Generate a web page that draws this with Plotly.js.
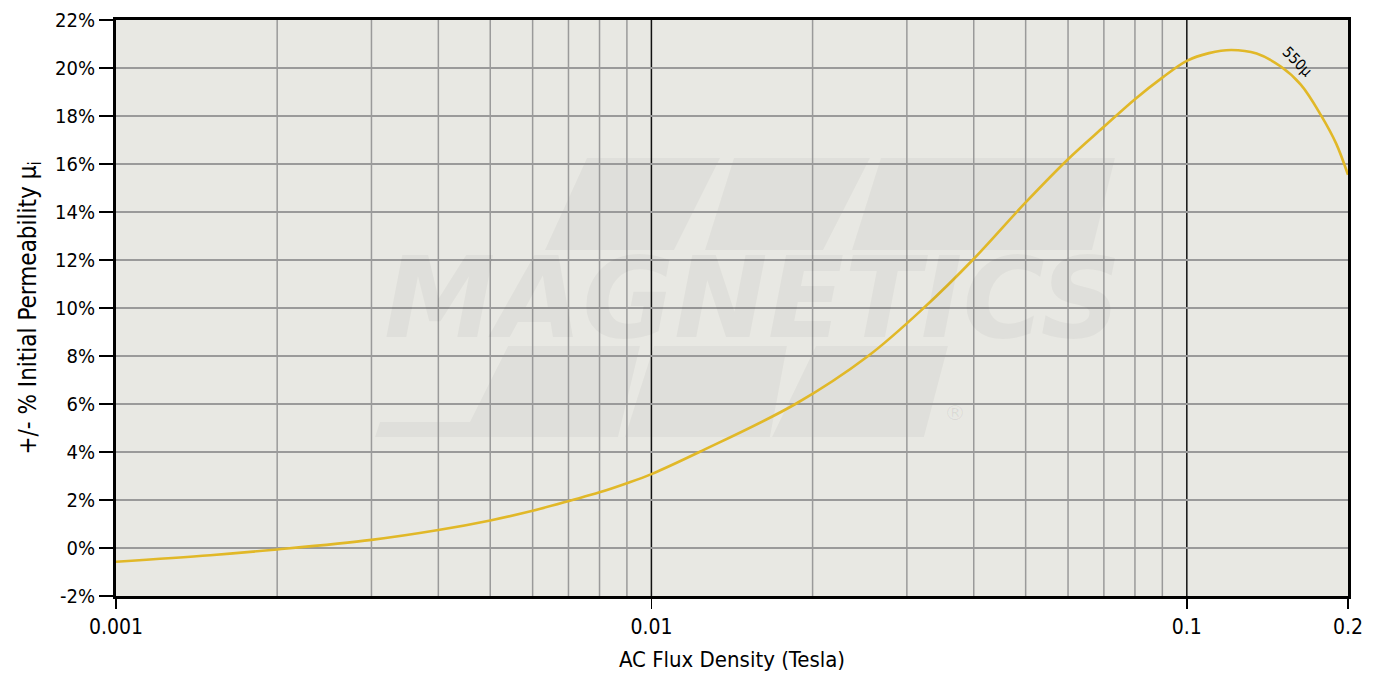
<!DOCTYPE html>
<html>
<head>
<meta charset="utf-8">
<script src="https://cdn.plot.ly/plotly-3.0.1.min.js"></script>
<style>html,body{margin:0;padding:0;background:#fff;}#chart{width:1377px;height:685px;}</style>
</head>
<body>
<div id="chart"></div>
<script>
// ---- data ----
const fluxDensity = [0.001, 0.0015, 0.002, 0.003, 0.004, 0.005, 0.006, 0.00712, 0.008, 0.009, 0.01, 0.01229, 0.01858, 0.0254, 0.03225, 0.03981, 0.05, 0.06, 0.07, 0.08, 0.09, 0.1, 0.11, 0.121, 0.135, 0.15, 0.1634, 0.178, 0.19, 0.2];
const permChange = [-0.57, -0.30, -0.06, 0.34, 0.75, 1.15, 1.55, 2.0, 2.32, 2.7, 3.08, 4.0, 6.0, 8.0, 10.0, 12.0, 14.4, 16.2, 17.55, 18.7, 19.6, 20.3, 20.62, 20.75, 20.6, 20.05, 19.3, 18.04, 16.86, 15.55];
const seriesName = "550μ";
const xTickVals = [0.001, 0.01, 0.1, 0.2];
const xTickText = ["0.001", "0.01", "0.1", "0.2"];
const yTickVals = [-2, 0, 2, 4, 6, 8, 10, 12, 14, 16, 18, 20, 22];
const yTickText = ["-2%", "0%", "2%", "4%", "6%", "8%", "10%", "12%", "14%", "16%", "18%", "20%", "22%"];
const xMinorGrid = [0.002, 0.003, 0.004, 0.005, 0.006, 0.007, 0.008, 0.009, 0.02, 0.03, 0.04, 0.05, 0.06, 0.07, 0.08, 0.09];
const xMajorGrid = [0.01, 0.1];
const yMajorGrid = [0, 4, 10, 16];
const labelPoint = {x: 0.161, y: 20.25};

// ---- layout helpers ----
const FONT = "'DejaVu Sans Condensed', 'Liberation Sans Narrow', 'Liberation Sans', sans-serif";
const W = 1377, H = 685, ML = 116, MR = 29, MT = 20, MB = 89;
const PW = W - ML - MR, PH = H - MT - MB;
function px(x) { return (x - ML) / PW; }
function py(y) { return (H - MB - y) / PH; }
function poly(pts) {
  return 'M' + pts.map(p => px(p[0]).toFixed(4) + ',' + py(p[1]).toFixed(4)).join(' L') + ' Z';
}
const wmColor = 'rgba(0,0,0,0.035)';
const watermarkPolys = [
  [[545,250],[587,158],[720,158],[674,250]],
  [[705,250],[734,158],[870,158],[823,250]],
  [[852,250],[881,158],[1115,158],[1092,250]],
  [[508,346],[640,346],[618,437],[375,437],[380,422],[470,422]],
  [[654,346],[787,346],[770,437],[625,437]],
  [[816,346],[948,346],[924,437],[772,437]]
];

const shapes = [];
watermarkPolys.forEach(p => shapes.push({type:'path', xref:'paper', yref:'paper', path: poly(p), fillcolor: wmColor, line:{width:0}, layer:'below'}));
xMinorGrid.forEach(v => shapes.push({type:'line', xref:'x', yref:'paper', x0:v, x1:v, y0:0, y1:1, line:{color:'#9a9a9a', width:1.5}, layer:'between'}));
xMajorGrid.forEach(v => shapes.push({type:'line', xref:'x', yref:'paper', x0:v, x1:v, y0:0, y1:1, line:{color:'#111', width:1.5}, layer:'between'}));
yMajorGrid.forEach(v => shapes.push({type:'line', xref:'paper', yref:'y', x0:0, x1:1, y0:v, y1:v, line:{color:'#111', width:1.5}, layer:'between'}));

const trace = {
  x: fluxDensity, y: permChange, type:'scatter', mode:'lines', name: seriesName,
  line: {color:'#E1B828', width:2.6, shape:'spline', smoothing:1.0},
  hoverinfo:'x+y'
};

const layout = {
  width: W, height: H,
  margin: {l: ML, r: MR, t: MT, b: MB, pad: 0},
  paper_bgcolor: '#ffffff',
  plot_bgcolor: '#E8E8E3',
  showlegend: false,
  font: {family: FONT, color: '#000', size: 20},
  xaxis: {
    type: 'log', range: [Math.log10(0.001), Math.log10(0.2)],
    tickvals: xTickVals, ticktext: xTickText,
    ticks: 'outside', ticklen: 10, tickwidth: 1.5, tickcolor: '#000',
    showgrid: false, zeroline: false,
    showline: true, linecolor: '#000', linewidth: 3, mirror: true,
    tickfont: {family: FONT, size: 21, color: '#000'},
    title: {text: 'AC Flux Density (Tesla)', font: {family: FONT, size: 22, color: '#000'}, standoff: 14}
  },
  yaxis: {
    range: [-2, 22],
    tickvals: yTickVals, ticktext: yTickText,
    ticks: 'outside', ticklen: 14, tickwidth: 1.5, tickcolor: '#000',
    showgrid: true, gridcolor: '#9a9a9a', gridwidth: 1.5, zeroline: false,
    showline: true, linecolor: '#000', linewidth: 3, mirror: true,
    tickfont: {family: FONT, size: 20, color: '#000'},
    title: {text: '+/- % Initial Permeability μ<sub>i</sub>', font: {family: FONT, size: 24, color: '#000'}, standoff: 12}
  },
  shapes: shapes,
  annotations: [
    {xref:'paper', yref:'paper', x: px(752), y: py(298), text: 'MAGNETICS', showarrow: false,
     font: {family: "'DejaVu Sans', sans-serif", size: 112, color: wmColor, weight: 900, style: 'italic'}},
    {xref:'paper', yref:'paper', x: px(968), y: py(427), text: '®', showarrow: false,
     font: {family: "'DejaVu Sans', sans-serif", size: 22, color: 'rgba(0,0,0,0.06)'}},
    {x: Math.log10(labelPoint.x), y: labelPoint.y, text: seriesName, showarrow: false, textangle: 45,
     font: {family: FONT, size: 15, color: '#000'}}
  ]
};

Plotly.newPlot('chart', [trace], layout, {displayModeBar: false, staticPlot: true});
</script>
</body>
</html>
